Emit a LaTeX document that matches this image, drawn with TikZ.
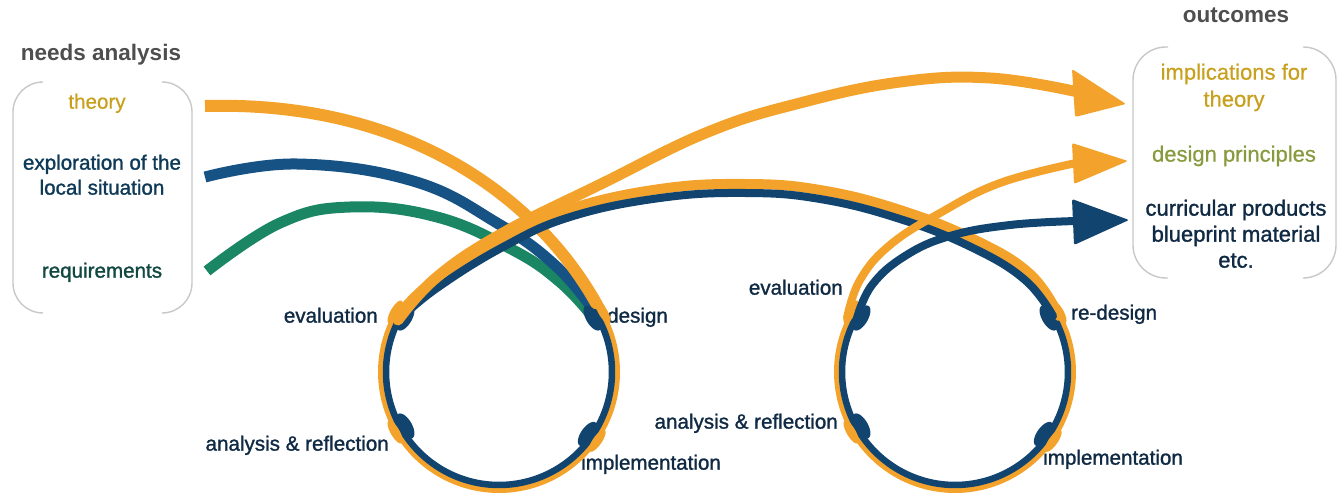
\documentclass[tikz,border=0pt]{standalone}
\usepackage{fontspec}
\setmainfont{Liberation Sans}
\newfontfamily\semib{Liberation Sans}[FakeBold=1.3]
\newfontfamily\lightb{Liberation Sans}[FakeBold=0.6]
\usetikzlibrary{calc}
\definecolor{corange}{RGB}{243,163,44}
\definecolor{cblue}{RGB}{18,68,112}
\definecolor{cexpl}{RGB}{22,82,132}
\definecolor{cgreen}{RGB}{26,134,100}
\definecolor{cnavy}{RGB}{16,42,68}
\definecolor{cgray}{RGB}{78,78,78}
\definecolor{cbrk}{RGB}{200,200,200}
\definecolor{cgold}{RGB}{200,160,30}
\definecolor{colive}{RGB}{135,155,62}
\definecolor{cexpltxt}{RGB}{14,58,88}
\definecolor{creqtxt}{RGB}{18,72,66}
\begin{document}
\begin{tikzpicture}[x=1pt,y=-1pt,
  lbl/.style={text=cnavy, font=\semib\fontsize{20.6}{24}\selectfont, inner sep=0pt},
  boxtxt/.style={font=\semib\fontsize{20.6}{24}\selectfont, inner sep=0pt, anchor=mid},
  rtxt/.style={font=\semib\fontsize{22}{26}\selectfont, inner sep=0pt, anchor=mid},
  rtxtl/.style={font=\lightb\fontsize{22}{26}\selectfont, inner sep=0pt, anchor=mid},
  ttl/.style={text=cgray, font=\fontsize{22.5}{26}\selectfont\bfseries, inner sep=0pt, anchor=mid},
  brk/.style={draw=cbrk, line width=1.4},
  orng/.style={draw=corange, line cap=round, line join=round},
  blu/.style={draw=cblue, line cap=round, line join=round},
  head/.style={rounded corners=2pt}
]
\useasboundingbox (0,0) rectangle (1338,497);

% boxes
\draw[brk, rounded corners=30] (43,82) -- (13,82) -- (13,313) -- (43,313);
\draw[brk, rounded corners=30] (162,82) -- (192,82) -- (192,313) -- (162,313);
\draw[brk, rounded corners=33] (1168,47) -- (1133,47) -- (1133,278) -- (1168,278);
\draw[brk, rounded corners=33] (1303,47) -- (1336,47) -- (1336,278) -- (1303,278);

% titles and box texts
\node[ttl] (tneeds) at (101,58) {needs analysis};
\node[ttl] (tout) at (1236,20) {outcomes};
\node[boxtxt, font=\lightb\fontsize{20.6}{24}\selectfont, text=cgold] (ttheory) at (97,106) {theory};
\node[boxtxt, text=cexpltxt] (texpl1) at (102,167) {exploration of the};
\node[boxtxt, text=cexpltxt] (texpl2) at (102,192) {local situation};
\node[boxtxt, text=creqtxt] (treq) at (102,275) {requirements};
\node[rtxtl, text=cgold] (timpl1) at (1234,77) {implications for};
\node[rtxtl, text=cgold] (timpl2) at (1234,104) {theory};
\node[rtxtl, text=colive] (tdp) at (1234,159) {design principles};
\node[rtxt, text=cnavy] (tcur1) at (1236,213) {curricular products};
\node[rtxt, text=cnavy] (tcur2) at (1236,239) {blueprint material};
\node[rtxt, text=cnavy] (tcur3) at (1236,265) {etc.};

% circle labels
\node[lbl, anchor=mid east] (ev1) at (378,320) {evaluation};
\node[lbl, anchor=mid west] (de1) at (607,320) {design};
\node[lbl, anchor=mid east] (an1) at (389,448) {analysis \& reflection};
\node[lbl, anchor=mid west] (im1) at (581,467) {implementation};
\node[lbl, anchor=mid east] (ev2) at (843,292) {evaluation};
\node[lbl, anchor=mid west] (de2) at (1071,317) {re-design};
\node[lbl, anchor=mid east] (an2) at (838,426) {analysis \& reflection};
\node[lbl, anchor=mid west] (im2) at (1043,462) {implementation};

% incoming lines
\draw[draw=cgreen, line width=11, line join=round] plot[smooth, tension=0.7] coordinates {(207,271) (280,223) (350,207) (437,217) (513,250) (560,282) (592,316)};
\draw[draw=cexpl, line width=11, line join=round] plot[smooth, tension=0.7] coordinates {(205,177) (297,164) (413,181) (497,223) (557,267) (598,316)};
\draw[draw=corange, line width=12] (205,106) .. controls (420,100) and (550,210) .. (604,318);

% circles
\foreach \cx in {499,955}{
  \draw[orng, line width=9] plot[domain=-32:212, samples=120] ({\cx+116.5*cos(\x)},{372+116.5*sin(\x)});
  \draw[blu, line width=6.5] plot[domain=-32:212, samples=120] ({\cx+113*cos(\x)},{372+113*sin(\x)});
  \foreach \a in {-30,35,150,210}{
    \fill[corange] plot[domain=0:360, samples=36] ({\cx+(120+4.5*cos(\x))*cos(\a)-13*sin(\x)*sin(\a)},{372+(120+4.5*cos(\x))*sin(\a)+13*sin(\x)*cos(\a)}) -- cycle;
    \fill[cblue] plot[domain=0:360, samples=36] ({\cx+(108+6.5*cos(\x))*cos(\a)-14*sin(\x)*sin(\a)},{372+(108+6.5*cos(\x))*sin(\a)+14*sin(\x)*cos(\a)}) -- cycle;
  }
}

% arch between circles
\draw[orng, line width=10] plot[smooth, tension=0.7] coordinates {(396,318) (432,282) (500,240) (570,209) (660,189) (745,184) (820,190) (900,210) (975,240) (1030,274) (1059,316)};
\draw[blu, line width=8] plot[smooth, tension=0.7] coordinates {(401,318) (437,288) (503,247) (570,217) (660,198) (745,193) (820,199) (900,219) (973,248) (1025,280) (1053,316)};

% big orange arrow
\draw[orng, line width=11] plot[smooth, tension=0.7] coordinates {(398,320) (437,277) (503,233) (603,183) (708,132) (800,103) (900,82) (990,78) (1078,92)};
\fill[corange, head] (1072,69) -- (1126,104) -- (1075,117) -- cycle;

% arrows from circle 2
\draw[orng, line width=8] plot[smooth, tension=0.7] coordinates {(847,318) (860,280) (890,245) (940,213) (1000,183) (1076,163)};
\fill[corange, head] (1072,143) -- (1128,161) -- (1074,184) -- cycle;
\draw[blu, line width=8] plot[smooth, tension=0.7] coordinates {(857,318) (872,285) (905,256) (950,236) (1010,225) (1076,221)};
\fill[cblue, head] (1072,199) -- (1129,220) -- (1074,245) -- cycle;
\end{tikzpicture}
\end{document}
